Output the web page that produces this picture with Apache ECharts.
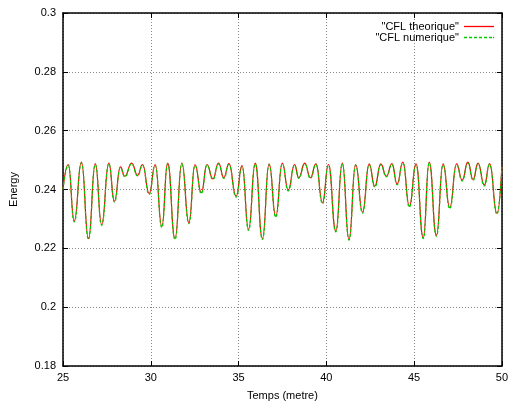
<!DOCTYPE html>
<html>
<head>
<meta charset="utf-8">
<script src="https://cdn.jsdelivr.net/npm/echarts@6/dist/echarts.min.js"></script>
<style>html,body{margin:0;padding:0;background:#fff}#c{width:511px;height:406px}</style>
</head>
<body>
<div id="c"></div>
<script>
const xTimes = [25, 25.30, 25.64, 26.05, 26.45, 26.84, 27.20, 27.61, 27.93, 28.27, 28.52, 28.91, 29.25, 29.53, 29.91, 30.25, 30.63, 30.96, 31.38, 31.77, 32.17, 32.52, 32.88, 33.20, 33.54, 33.86, 34.16, 34.45, 34.86, 35.20, 35.57, 35.95, 36.36, 36.74, 37.12, 37.49, 37.83, 38.19, 38.43, 38.77, 39.09, 39.41, 39.78, 40.12, 40.54, 40.91, 41.29, 41.67, 42.06, 42.44, 42.76, 43.10, 43.42, 43.74, 44.03, 44.36, 44.73, 45.11, 45.52, 45.86, 46.27, 46.65, 47.03, 47.42, 47.74, 48.06, 48.36, 48.64, 49.00, 49.30, 49.72, 50];
const cflTheorique = [0.2400, 0.2485, 0.2293, 0.2493, 0.2233, 0.2488, 0.2281, 0.2490, 0.2360, 0.2477, 0.2445, 0.2490, 0.2448, 0.2485, 0.2386, 0.2485, 0.2274, 0.2490, 0.2233, 0.2490, 0.2287, 0.2485, 0.2389, 0.2485, 0.2436, 0.2490, 0.2440, 0.2488, 0.2377, 0.2481, 0.2264, 0.2490, 0.2233, 0.2487, 0.2309, 0.2490, 0.2398, 0.2485, 0.2440, 0.2490, 0.2440, 0.2487, 0.2355, 0.2485, 0.2259, 0.2490, 0.2231, 0.2485, 0.2323, 0.2487, 0.2411, 0.2487, 0.2445, 0.2488, 0.2419, 0.2493, 0.2343, 0.2487, 0.2236, 0.2493, 0.2244, 0.2487, 0.2338, 0.2487, 0.2432, 0.2493, 0.2434, 0.2490, 0.2415, 0.2488, 0.2319, 0.2479];
const cflNumerique = [0.2400, 0.2482, 0.2290, 0.2490, 0.2230, 0.2485, 0.2278, 0.2487, 0.2357, 0.2474, 0.2443, 0.2487, 0.2446, 0.2482, 0.2383, 0.2482, 0.2271, 0.2487, 0.2230, 0.2487, 0.2284, 0.2482, 0.2386, 0.2482, 0.2434, 0.2487, 0.2438, 0.2485, 0.2374, 0.2478, 0.2261, 0.2487, 0.2230, 0.2484, 0.2306, 0.2487, 0.2395, 0.2482, 0.2438, 0.2487, 0.2438, 0.2484, 0.2352, 0.2482, 0.2256, 0.2487, 0.2228, 0.2482, 0.2320, 0.2484, 0.2408, 0.2484, 0.2443, 0.2485, 0.2416, 0.2490, 0.2340, 0.2484, 0.2233, 0.2490, 0.2241, 0.2484, 0.2335, 0.2484, 0.2429, 0.2490, 0.2431, 0.2487, 0.2412, 0.2485, 0.2316, 0.2476];
const seriesNames = ['"CFL theorique"', '"CFL numerique"'];
const xTitle = 'Temps (metre)';
const yTitle = 'Energy';

const font = 'Liberation Sans, Arial, sans-serif';
const chart = echarts.init(document.getElementById('c'), null, {renderer: 'canvas'});
const gridLine = {show: true, lineStyle: {color: '#888', type: [1, 2], width: 1}};
const tickIn = {show: true, inside: true, length: 5, lineStyle: {color: '#000'}};
const solidIcon = 'path://M0,0h30v1h-30z';
const dashIcon = 'path://M0,0h3v1h-3z M5,0h3v1h-3z M10,0h3v1h-3z M15,0h3v1h-3z M20,0h3v1h-3z M25,0h3v1h-3z M29,0h1v1h-1z';
chart.setOption({
  animation: false,
  backgroundColor: '#fff',
  grid: {left: 62, right: 6, top: 13, bottom: 39},
  legend: {
    orient: 'vertical', right: 12, top: 16, align: 'right',
    itemWidth: 30, itemHeight: 1.3, itemGap: 0,
    symbolKeepAspect: false,
    textStyle: {fontFamily: font, fontSize: 11, color: '#000', lineHeight: 10},
    data: [
      {name: seriesNames[0], icon: solidIcon, itemStyle: {color: '#ff0000', borderWidth: 0}},
      {name: seriesNames[1], icon: dashIcon, itemStyle: {color: '#00cc00', borderWidth: 0}}
    ]
  },
  xAxis: [{
    type: 'value', min: 25, max: 50, interval: 5,
    name: xTitle, nameLocation: 'middle', nameGap: 24,
    nameTextStyle: {fontFamily: font, fontSize: 11, color: '#000'},
    axisLine: {show: true, lineStyle: {color: '#000', width: 1.5}},
    axisTick: tickIn,
    axisLabel: {fontFamily: font, fontSize: 11, color: '#000', margin: 6},
    splitLine: gridLine
  }, {
    type: 'value', min: 25, max: 50, interval: 5, position: 'top',
    axisLine: {show: true, lineStyle: {color: '#000', width: 1.5}},
    axisTick: tickIn, axisLabel: {show: false}, splitLine: {show: false}
  }],
  yAxis: [{
    type: 'value', min: 0.18, max: 0.3, interval: 0.02,
    name: yTitle, nameLocation: 'middle', nameGap: 44, nameRotate: 90,
    nameTextStyle: {fontFamily: font, fontSize: 11, color: '#000'},
    axisLine: {show: true, lineStyle: {color: '#000', width: 1.5}},
    axisTick: tickIn,
    axisLabel: {fontFamily: font, fontSize: 11, color: '#000', margin: 7,
      formatter: v => String(Math.round(v * 100) / 100)},
    splitLine: gridLine
  }, {
    type: 'value', min: 0.18, max: 0.3, interval: 0.02, position: 'right',
    axisLine: {show: true, lineStyle: {color: '#000', width: 1.5}},
    axisTick: tickIn, axisLabel: {show: false}, splitLine: {show: false}
  }],
  series: [{
    name: seriesNames[0], type: 'line', smooth: 0.5, smoothMonotone: 'x',
    symbol: 'none', data: xTimes.map((x, i) => [x, cflTheorique[i]]),
    lineStyle: {color: '#ff0000', width: 1.2}, itemStyle: {color: '#ff0000'}, z: 2
  }, {
    name: seriesNames[1], type: 'line', smooth: 0.5, smoothMonotone: 'x',
    symbol: 'none', data: xTimes.map((x, i) => [x, cflNumerique[i]]),
    lineStyle: {color: '#00cc00', width: 1.2, type: [3, 2]}, itemStyle: {color: '#00cc00'}, z: 3
  }]
});
</script>
</body>
</html>
